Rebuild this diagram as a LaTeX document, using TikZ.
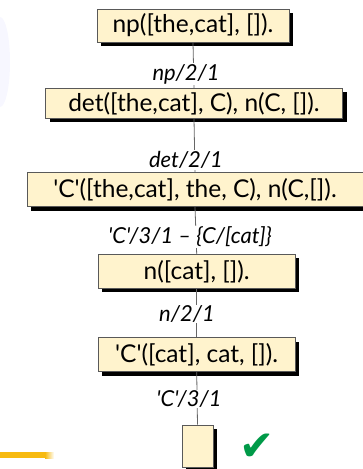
\documentclass[tikz,border=0pt]{standalone}
\usepackage{fontspec}
\setmainfont{Lato}[Ligatures=TeXOff]
\newfontfamily\symfont{DejaVu Sans}
\usetikzlibrary{shadows}
\definecolor{boxfill}{HTML}{FFF3CD}
\definecolor{okgreen}{HTML}{009A48}
\definecolor{streak}{HTML}{F7BA10}
\tikzset{
  goal/.style={draw=black!65, fill=boxfill, line width=0.8pt, inner sep=0pt,
    font=\fontsize{24.5}{26}\selectfont,
    drop shadow={shadow xshift=4pt, shadow yshift=-4pt, fill=black, opacity=1}},
  rulelbl/.style={font=\fontsize{22}{24}\selectfont\itshape, fill=white, inner sep=1pt},
  link/.style={draw=black!60, line width=0.8pt}
}
\begin{document}
\begin{tikzpicture}[x=1pt,y=-1pt]
\useasboundingbox (0,0) rectangle (363,469);
% faint background marks
\fill[blue!3] (0,62) ellipse (10pt and 45pt);
\fill[streak] (0,452) rectangle (45,458);
\shade[left color=streak, right color=white] (45,452) rectangle (54,458);
% goal boxes
\node[goal, minimum width=192pt, minimum height=33pt] (b1) at (193,25.5) {np([the,cat], []).};
\node[goal, minimum width=297pt, minimum height=30pt] (b2) at (194,103.3) {det([the,cat], C), n(C, []).};
\node[goal, minimum width=336pt, minimum height=34pt] (b3) at (195,189.7) {'C'([the,cat], the, C), n(C,[]).};
\node[goal, minimum width=197pt, minimum height=34pt] (b4) at (196.7,271.3) {n([cat], []).};
\node[goal, minimum width=197pt, minimum height=34pt] (b5) at (196.7,354.5) {'C'([cat], cat, []).};
\node[goal, minimum width=31pt, minimum height=42pt] (b6) at (197.5,446) {};
% connectors
\draw[link] (b1.south) -- (b2.north);
\draw[link] (b2.south) -- (b3.north);
\draw[link] (b3.south) -- (b4.north);
\draw[link] (b4.south) -- (b5.north);
\draw[link] (b5.south) -- (b6.north);
% rule labels
\node[rulelbl] (l1) at (186,74) {np/2/1};
\node[rulelbl] (l2) at (186,160) {det/2/1};
\node[rulelbl] (l3) at (190,237) {'C'/3/1 – \{C/[cat]\}};
\node[rulelbl] (l4) at (187,314) {n/2/1};
\node[rulelbl] (l5) at (189,399) {'C'/3/1};
% success mark
\node[text=okgreen, font=\symfont\fontsize{42}{42}\selectfont, inner sep=0pt] (ok) at (257,447) {✔};
\end{tikzpicture}
\end{document}
